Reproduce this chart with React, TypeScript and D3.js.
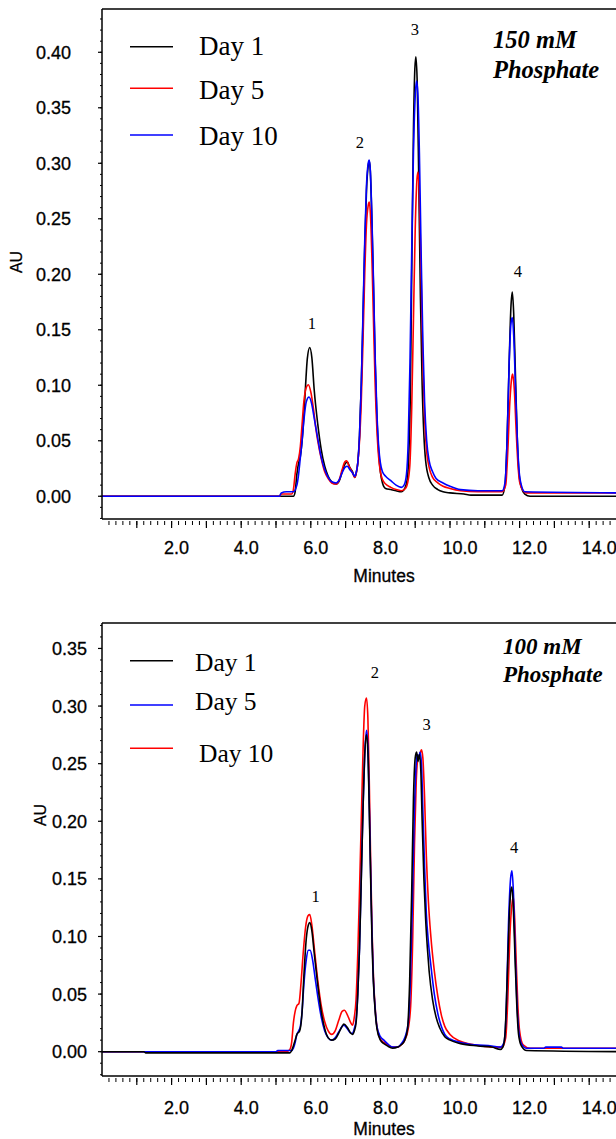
import React from 'react';
import * as d3 from 'd3';

type Pt = [number, number];

// ---------- DATA: 150 mM Phosphate (top) ----------
const day1_150: Pt[] = [[0,0],[5.5,0],[5.55,0.004],[5.6,0.02],[5.65,0.03],[5.7,0.036],[5.75,0.05],[5.8,0.072],[5.85,0.1],[5.9,0.124],[5.97,0.134],[6.03,0.125],[6.1,0.095],[6.2,0.065],[6.3,0.042],[6.4,0.027],[6.5,0.018],[6.6,0.013],[6.73,0.011],[6.82,0.014],[6.9,0.022],[6.98,0.029],[7.05,0.031],[7.12,0.026],[7.2,0.022],[7.26,0.017],[7.3,0.02],[7.35,0.03],[7.4,0.055],[7.45,0.1],[7.5,0.16],[7.55,0.225],[7.6,0.275],[7.65,0.298],[7.68,0.302],[7.71,0.293],[7.75,0.255],[7.8,0.19],[7.85,0.12],[7.9,0.07],[7.95,0.04],[8.0,0.022],[8.06,0.012],[8.15,0.007],[8.3,0.006],[8.45,0.005],[8.6,0.004],[8.7,0.007],[8.77,0.015],[8.82,0.04],[8.86,0.09],[8.9,0.2],[8.95,0.33],[8.99,0.385],[9.02,0.396],[9.06,0.37],[9.1,0.29],[9.15,0.18],[9.2,0.1],[9.25,0.055],[9.3,0.032],[9.4,0.016],[9.5,0.01],[9.65,0.006],[9.8,0.004],[10.0,0.003],[10.4,0.002],[10.6,0.001],[11.5,0.001],[11.58,0.01],[11.64,0.05],[11.7,0.12],[11.75,0.17],[11.79,0.184],[11.83,0.165],[11.88,0.11],[11.93,0.055],[11.98,0.022],[12.05,0.008],[12.15,0.002],[12.3,0],[15,0]];

const day5_150: Pt[] = [[0,0],[5.1,0],[5.15,0.002],[5.45,0.002],[5.5,0.006],[5.55,0.02],[5.6,0.03],[5.65,0.034],[5.7,0.045],[5.75,0.065],[5.8,0.085],[5.87,0.098],[5.93,0.1005],[6.0,0.094],[6.08,0.078],[6.15,0.06],[6.2,0.05],[6.3,0.034],[6.4,0.022],[6.5,0.016],[6.6,0.012],[6.73,0.011],[6.82,0.015],[6.9,0.024],[6.98,0.031],[7.03,0.032],[7.1,0.027],[7.2,0.021],[7.26,0.017],[7.3,0.02],[7.35,0.03],[7.4,0.05],[7.45,0.085],[7.5,0.14],[7.55,0.2],[7.6,0.245],[7.65,0.262],[7.68,0.265],[7.72,0.25],[7.76,0.21],[7.8,0.16],[7.85,0.1],[7.9,0.06],[7.95,0.035],[8.0,0.022],[8.06,0.015],[8.15,0.011],[8.3,0.008],[8.45,0.006],[8.6,0.005],[8.72,0.007],[8.8,0.015],[8.85,0.03],[8.9,0.08],[8.95,0.16],[9.0,0.24],[9.05,0.285],[9.08,0.292],[9.12,0.27],[9.17,0.2],[9.22,0.12],[9.27,0.07],[9.33,0.04],[9.4,0.026],[9.5,0.017],[9.65,0.012],[9.8,0.009],[10.0,0.007],[10.3,0.005],[10.8,0.004],[11.5,0.004],[11.6,0.01],[11.66,0.04],[11.72,0.085],[11.78,0.108],[11.8,0.11],[11.85,0.095],[11.9,0.06],[11.95,0.03],[12.0,0.013],[12.1,0.005],[12.2,0.003],[15,0.003]];

const day10_150: Pt[] = [[0,0],[5.1,0],[5.15,0.003],[5.3,0.004],[5.5,0.004],[5.6,0.01],[5.65,0.02],[5.7,0.035],[5.75,0.05],[5.8,0.068],[5.87,0.085],[5.95,0.0894],[6.02,0.084],[6.1,0.07],[6.2,0.052],[6.3,0.035],[6.4,0.024],[6.5,0.017],[6.6,0.013],[6.73,0.012],[6.82,0.015],[6.9,0.021],[6.98,0.026],[7.05,0.027],[7.12,0.024],[7.2,0.021],[7.26,0.018],[7.3,0.021],[7.35,0.03],[7.4,0.055],[7.45,0.1],[7.5,0.165],[7.55,0.23],[7.6,0.28],[7.65,0.3],[7.68,0.303],[7.71,0.294],[7.75,0.258],[7.8,0.195],[7.85,0.125],[7.9,0.075],[7.95,0.045],[8.0,0.03],[8.06,0.022],[8.15,0.018],[8.3,0.014],[8.45,0.01],[8.6,0.008],[8.68,0.01],[8.75,0.02],[8.8,0.05],[8.85,0.12],[8.9,0.22],[8.95,0.31],[9.0,0.36],[9.04,0.374],[9.08,0.36],[9.12,0.31],[9.17,0.22],[9.22,0.14],[9.27,0.085],[9.33,0.05],[9.4,0.032],[9.5,0.022],[9.6,0.016],[9.8,0.012],[10.0,0.009],[10.3,0.006],[10.8,0.005],[11.5,0.005],[11.58,0.012],[11.64,0.05],[11.7,0.12],[11.75,0.155],[11.79,0.161],[11.83,0.145],[11.88,0.1],[11.93,0.055],[11.98,0.025],[12.05,0.01],[12.15,0.004],[15,0.003]];

// ---------- DATA: 100 mM Phosphate (bottom) ----------
const day1_100: Pt[] = [[0,0],[1.2,0],[1.25,-0.001],[5.4,-0.001],[5.45,0.001],[5.55,0.01],[5.6,0.015],[5.68,0.018],[5.75,0.035],[5.8,0.065],[5.87,0.098],[5.93,0.11],[5.97,0.112],[6.03,0.105],[6.1,0.085],[6.2,0.058],[6.3,0.035],[6.4,0.02],[6.5,0.012],[6.6,0.01],[6.7,0.011],[6.8,0.016],[6.9,0.022],[6.95,0.024],[7.05,0.021],[7.15,0.016],[7.2,0.015],[7.25,0.018],[7.3,0.025],[7.35,0.05],[7.4,0.09],[7.45,0.15],[7.5,0.21],[7.55,0.258],[7.6,0.275],[7.64,0.26],[7.68,0.21],[7.72,0.15],[7.76,0.095],[7.8,0.06],[7.85,0.035],[7.9,0.02],[8.0,0.01],[8.1,0.007],[8.2,0.005],[8.35,0.003],[8.5,0.004],[8.6,0.006],[8.7,0.01],[8.78,0.02],[8.84,0.06],[8.9,0.14],[8.95,0.22],[9.0,0.255],[9.04,0.26],[9.08,0.252],[9.12,0.258],[9.16,0.245],[9.2,0.2],[9.25,0.15],[9.3,0.115],[9.35,0.09],[9.4,0.07],[9.5,0.045],[9.6,0.03],[9.7,0.021],[9.85,0.013],[10.0,0.01],[10.3,0.007],[10.8,0.005],[11.2,0.004],[11.45,0.002],[11.52,0.004],[11.58,0.015],[11.64,0.06],[11.7,0.115],[11.75,0.14],[11.78,0.143],[11.82,0.125],[11.87,0.08],[11.92,0.04],[11.97,0.015],[12.05,0.005],[12.2,0.001],[15,0]];

const day5_100: Pt[] = [[0,0],[5.0,0],[5.05,0.001],[5.45,0.001],[5.5,0.003],[5.55,0.008],[5.6,0.015],[5.65,0.018],[5.7,0.022],[5.75,0.035],[5.8,0.058],[5.87,0.08],[5.93,0.088],[5.98,0.088],[6.05,0.08],[6.12,0.065],[6.2,0.048],[6.3,0.03],[6.4,0.018],[6.5,0.012],[6.6,0.01],[6.7,0.012],[6.8,0.017],[6.9,0.022],[6.95,0.023],[7.05,0.02],[7.15,0.016],[7.2,0.016],[7.25,0.02],[7.3,0.027],[7.35,0.05],[7.4,0.09],[7.45,0.15],[7.5,0.21],[7.55,0.258],[7.6,0.279],[7.64,0.265],[7.68,0.215],[7.72,0.155],[7.76,0.1],[7.8,0.062],[7.85,0.037],[7.9,0.022],[8.0,0.013],[8.1,0.01],[8.2,0.007],[8.35,0.004],[8.5,0.004],[8.6,0.007],[8.7,0.012],[8.8,0.025],[8.86,0.06],[8.92,0.13],[8.97,0.2],[9.02,0.245],[9.06,0.258],[9.1,0.255],[9.14,0.26],[9.18,0.25],[9.22,0.21],[9.27,0.16],[9.32,0.12],[9.38,0.095],[9.45,0.075],[9.55,0.05],[9.65,0.033],[9.75,0.022],[9.85,0.015],[10.0,0.011],[10.3,0.008],[10.7,0.006],[11.2,0.005],[11.45,0.004],[11.55,0.008],[11.62,0.04],[11.68,0.11],[11.74,0.15],[11.78,0.157],[11.82,0.14],[11.87,0.09],[11.92,0.045],[11.97,0.02],[12.05,0.007],[12.2,0.003],[12.7,0.003],[12.75,0.004],[13.2,0.004],[13.25,0.003],[15,0.003]];

const day10_100: Pt[] = [[0,0],[5.3,0],[5.4,0.002],[5.45,0.008],[5.5,0.025],[5.55,0.035],[5.6,0.04],[5.66,0.042],[5.72,0.06],[5.78,0.085],[5.85,0.108],[5.92,0.118],[5.97,0.119],[6.03,0.11],[6.1,0.09],[6.2,0.062],[6.3,0.04],[6.4,0.026],[6.5,0.018],[6.6,0.015],[6.7,0.018],[6.8,0.027],[6.9,0.035],[6.97,0.036],[7.05,0.032],[7.15,0.025],[7.2,0.023],[7.25,0.03],[7.3,0.045],[7.35,0.085],[7.4,0.14],[7.45,0.2],[7.5,0.26],[7.55,0.3],[7.6,0.307],[7.64,0.29],[7.68,0.235],[7.72,0.165],[7.76,0.105],[7.8,0.065],[7.85,0.038],[7.9,0.022],[8.0,0.011],[8.1,0.008],[8.2,0.006],[8.35,0.004],[8.5,0.004],[8.6,0.006],[8.7,0.01],[8.8,0.02],[8.87,0.04],[8.93,0.1],[8.98,0.18],[9.03,0.235],[9.08,0.255],[9.13,0.258],[9.18,0.262],[9.22,0.255],[9.27,0.22],[9.32,0.17],[9.38,0.13],[9.45,0.1],[9.55,0.07],[9.65,0.048],[9.75,0.032],[9.85,0.022],[10.0,0.015],[10.3,0.009],[10.7,0.006],[11.2,0.004],[11.5,0.004],[11.6,0.012],[11.66,0.045],[11.72,0.1],[11.78,0.128],[11.82,0.1345],[11.86,0.115],[11.9,0.08],[11.95,0.04],[12.0,0.018],[12.1,0.006],[12.3,0.003],[15,0.003]];

// ---------- Labels ----------
const xTickValues = [2, 4, 6, 8, 10, 12, 14];
const yTicksTop = [0, 0.05, 0.1, 0.15, 0.2, 0.25, 0.3, 0.35, 0.4];
const yTicksBottom = [0, 0.05, 0.1, 0.15, 0.2, 0.25, 0.3, 0.35];
const peakNames = ['1', '2', '3', '4'];
const peakPosTop: Pt[] = [[6.03, 0.151], [7.41, 0.314], [8.99, 0.4155], [11.95, 0.1975]];
const peakPosBottom: Pt[] = [[6.14, 0.13], [7.84, 0.324], [9.33, 0.279], [11.84, 0.1725]];
const legendTop = ['Day 1', 'Day 5', 'Day 10'];
const legendBottom = ['Day 1', 'Day 5', 'Day 10'];

const BLACK = '#000000';
const RED = '#ff0000';
const BLUE = '#0000ff';

interface SeriesDef { data: Pt[]; color: string; }
interface ChartCfg {
  yDomain: [number, number];
  yRange: [number, number];
  yTicks: number[];
  series: SeriesDef[];
  peaks: Pt[];
  legend: { label: string; color: string; ly: number; tx: number; ty: number }[];
  legendSize: number;
  title: [string, string];
  titleSize: number;
  titleX: number;
  titleY: [number, number];
  xLabelY: number;
  minutesY: number;
  yLabelX: number;
  auX: number;
  auY: number;
}

const SANS = '"Liberation Sans", Arial, sans-serif';
const SERIF = '"Liberation Serif", "Times New Roman", serif';

const x = d3.scaleLinear().domain([0, 15]).range([102, 102 + 15 * 34.8]);

function Chart({ cfg }: { cfg: ChartCfg }) {
  const y = d3.scaleLinear().domain(cfg.yDomain).range(cfg.yRange);
  const line = d3.line<Pt>().x(d => x(d[0])).y(d => y(d[1])).curve(d3.curveMonotoneX);
  const yTop = cfg.yRange[1];
  const yBot = cfg.yRange[0];
  const minorY = d3.range(Math.ceil(cfg.yDomain[0] * 100), Math.floor(cfg.yDomain[1] * 100) + 1).map(v => v / 100);
  const minorX = d3.range(1, 76).map(v => v / 5);
  const majorX = d3.range(1, 16);
  const xL = 102;
  const xR = 640;
  const tickText = { fontFamily: SANS, fontSize: 18, fill: '#000', stroke: '#000', strokeWidth: 0.3 };
  return (
    <g>
      {cfg.series.map((s, i) => (
        <path key={i} d={line(s.data) || ''} fill="none" stroke={s.color} strokeWidth={1.6} strokeLinejoin="round" />
      ))}
      {/* frame */}
      <line x1={xL} x2={xL} y1={yTop} y2={yBot} stroke="#000" strokeWidth={1.5} />
      <line x1={xL} x2={xR} y1={yTop} y2={yTop} stroke="#000" strokeWidth={1.5} />
      <line x1={xL} x2={xR} y1={yBot} y2={yBot} stroke="#000" strokeWidth={1.5} />
      {/* y ticks */}
      {minorY.map((v, i) => (
        <line key={'ym' + i} x1={xL - 2} x2={xL} y1={y(v)} y2={y(v)} stroke="#000" strokeWidth={1} />
      ))}
      {cfg.yTicks.map((v, i) => (
        <g key={'yt' + i}>
          <line x1={xL - 4} x2={xL} y1={y(v)} y2={y(v)} stroke="#000" strokeWidth={1.2} />
          <text x={cfg.yLabelX} y={y(v)} dy="0.36em" textAnchor="end" {...tickText}>
            {d3.format('.2f')(v)}
          </text>
        </g>
      ))}
      {/* x ticks */}
      {minorX.map((v, i) => (
        <line key={'xm' + i} x1={x(v)} x2={x(v)} y1={yBot + 2} y2={yBot + 6} stroke="#000" strokeWidth={1} />
      ))}
      {majorX.map((v, i) => (
        <line key={'xM' + i} x1={x(v)} x2={x(v)} y1={yBot + 2} y2={yBot + 9} stroke="#000" strokeWidth={1.2} />
      ))}
      {xTickValues.map((v, i) => (
        <text key={'xl' + i} x={x(v) - 7.5} y={cfg.xLabelY} textAnchor="start" {...tickText}>
          {d3.format('.1f')(v)}
        </text>
      ))}
      <text x={384} y={cfg.minutesY} textAnchor="middle" fontFamily={SANS} fontSize={17.5} fill="#000" stroke="#000" strokeWidth={0.3}>Minutes</text>
      <text transform={`translate(${cfg.auX},${cfg.auY}) rotate(-90)`} textAnchor="middle" dy="0.36em" fontFamily={SANS} fontSize={16} fill="#000" stroke="#000" strokeWidth={0.25}>AU</text>
      {/* peak labels */}
      {cfg.peaks.map((p, i) => (
        <text key={'pk' + i} x={x(p[0])} y={y(p[1])} textAnchor="middle" fontFamily={SERIF} fontSize={16.5} fill="#000">
          {peakNames[i]}
        </text>
      ))}
      {/* legend */}
      {cfg.legend.map((l, i) => (
        <g key={'lg' + i}>
          <line x1={130} x2={173} y1={l.ly} y2={l.ly} stroke={l.color} strokeWidth={1.4} />
          <text x={l.tx} y={l.ty} fontFamily={SERIF} fontSize={cfg.legendSize} fill="#000">{l.label}</text>
        </g>
      ))}
      {/* title */}
      <text x={cfg.titleX} y={cfg.titleY[0]} fontFamily={SERIF} fontStyle="italic" fontWeight="bold" fontSize={cfg.titleSize} fill="#000">{cfg.title[0]}</text>
      <text x={cfg.titleX} y={cfg.titleY[1]} fontFamily={SERIF} fontStyle="italic" fontWeight="bold" fontSize={cfg.titleSize} fill="#000">{cfg.title[1]}</text>
    </g>
  );
}

const topCfg: ChartCfg = {
  yDomain: [-0.0205, 0.439],
  yRange: [519, 9],
  yTicks: yTicksTop,
  series: [
    { data: day1_150, color: BLACK },
    { data: day5_150, color: RED },
    { data: day10_150, color: BLUE },
  ],
  peaks: peakPosTop,
  legend: [
    { label: legendTop[0], color: BLACK, ly: 46.7, tx: 199, ty: 55 },
    { label: legendTop[1], color: RED, ly: 88.3, tx: 199, ty: 99 },
    { label: legendTop[2], color: BLUE, ly: 135, tx: 199, ty: 145 },
  ],
  legendSize: 27,
  title: ['150 mM', 'Phosphate'],
  titleSize: 24.5,
  titleX: 493,
  titleY: [48, 78],
  xLabelY: 554,
  minutesY: 582,
  yLabelX: 71,
  auX: 16,
  auY: 262,
};

const bottomCfg: ChartCfg = {
  yDomain: [-0.0211, 0.3721],
  yRange: [1076, 623],
  yTicks: yTicksBottom,
  series: [
    { data: day10_100, color: RED },
    { data: day5_100, color: BLUE },
    { data: day1_100, color: BLACK },
  ],
  peaks: peakPosBottom,
  legend: [
    { label: legendBottom[0], color: BLACK, ly: 660.7, tx: 195, ty: 671 },
    { label: legendBottom[1], color: BLUE, ly: 705, tx: 195, ty: 710 },
    { label: legendBottom[2], color: RED, ly: 748.3, tx: 199, ty: 761.7 },
  ],
  legendSize: 25.5,
  title: ['100 mM', 'Phosphate'],
  titleSize: 23,
  titleX: 503,
  titleY: [654, 681.7],
  xLabelY: 1114,
  minutesY: 1135,
  yLabelX: 87,
  auX: 40,
  auY: 815,
};

export default function App() {
  return (
    <svg width={616} height={1139} style={{ position: 'absolute', left: 0, top: 0, background: '#fff' }}>
      <rect x={0} y={0} width={616} height={1139} fill="#fff" />
      <Chart cfg={topCfg} />
      <Chart cfg={bottomCfg} />
    </svg>
  );
}
